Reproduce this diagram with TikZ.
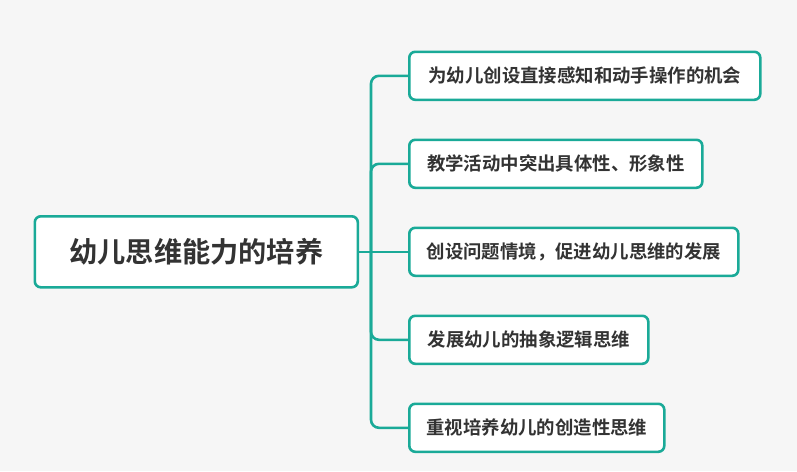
\documentclass[tikz,border=0pt]{standalone}
\usepackage{fontspec}
\newfontfamily\cjk{Noto Sans CJK SC}[BoldFont={Noto Sans CJK SC Bold}]
\definecolor{teal1}{HTML}{1AAA98}
\definecolor{txt}{HTML}{333333}
\definecolor{bg}{HTML}{F6F6F6}
\begin{document}
\begin{tikzpicture}[x=1pt,y=-1pt,
  box/.style={draw=teal1,line width=2.6pt,fill=white,rounded corners=6pt,text=txt,font=\cjk\bfseries\fontsize{18.4}{20}\selectfont,anchor=north west,inner sep=0pt,align=center},
  link/.style={draw=teal1,line width=2.6pt,rounded corners=8pt}]
\fill[bg] (0,0) rectangle (797,471);
\useasboundingbox (0,0) rectangle (797,471);
\node[box,minimum width=323pt,minimum height=71pt,font=\cjk\bfseries\fontsize{28.2}{30}\selectfont] (root) at (33.5,215) {幼儿思维能力的培养};
\node[box,minimum width=351pt,minimum height=48pt] (c1) at (408,50.5) {为幼儿创设直接感知和动手操作的机会};
\node[box,minimum width=293pt,minimum height=48pt] (c2) at (408,138.5) {教学活动中突出具体性、形象性};
\node[box,minimum width=329pt,minimum height=48pt] (c3) at (408,226.5) {创设问题情境，促进幼儿思维的发展};
\node[box,minimum width=239pt,minimum height=48pt] (c4) at (408,314.5) {发展幼儿的抽象逻辑思维};
\node[box,minimum width=255pt,minimum height=48pt] (c5) at (408,402.5) {重视培养幼儿的创造性思维};
\coordinate (tr) at (root.east -| 371,0);
\draw[link] (root.east) -- (tr);
\draw[link] (tr) |- (c1.west);
\draw[link] (tr) |- (c5.west);
\draw[link] (tr) |- (c2.west);
\draw[link] (tr) |- (c4.west);
\draw[link] (tr) -- (c3.west);
\end{tikzpicture}
\end{document}
